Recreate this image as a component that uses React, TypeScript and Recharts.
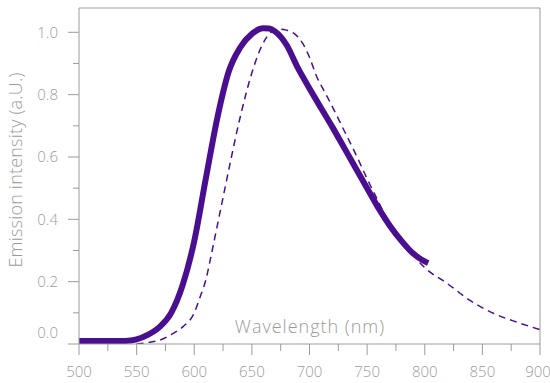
import React from "react";
import { LineChart, Line, XAxis, YAxis, ReferenceLine, Label } from "recharts";

const solidX = [500, 520, 540, 550, 560, 570, 580, 590, 600, 610, 620, 630, 640, 650, 660, 665, 670, 680, 690, 700, 710, 720, 730, 740, 750, 760, 770, 780, 790, 800, 803];
const solidY = [0.01, 0.01, 0.01, 0.015, 0.03, 0.055, 0.1, 0.19, 0.33, 0.53, 0.725, 0.875, 0.952, 0.995, 1.013, 1.012, 1.003, 0.96, 0.885, 0.82, 0.757, 0.695, 0.63, 0.565, 0.5, 0.435, 0.378, 0.33, 0.29, 0.265, 0.26];

const dashX = [550, 560, 570, 580, 590, 600, 605, 610, 615, 620, 625, 630, 640, 650, 657, 665, 670, 675, 680, 686, 694, 700, 706, 713, 720, 730, 740, 750, 760, 770, 780, 790, 800, 820, 840, 860, 880, 900];
const dashY = [0, 0.005, 0.012, 0.03, 0.055, 0.1, 0.15, 0.205, 0.29, 0.38, 0.47, 0.56, 0.73, 0.87, 0.943, 0.995, 1.008, 1.01, 1.007, 0.998, 0.965, 0.92, 0.86, 0.81, 0.76, 0.685, 0.61, 0.53, 0.455, 0.38, 0.33, 0.285, 0.245, 0.193, 0.138, 0.098, 0.07, 0.046];

const xTicks = [500, 525, 550, 575, 600, 625, 650, 675, 700, 725, 750, 775, 800, 825, 850, 875, 900];
const yTicks = [0, 0.1, 0.2, 0.3, 0.4, 0.5, 0.6, 0.7, 0.8, 0.9, 1.0];

const solidData = solidX.map((x, i) => ({ x, y: solidY[i] }));
const dashData = dashX.map((x, i) => ({ x, y: dashY[i] }));

const GRAY = "#9b9b9b";
const PURPLE = "#4a0f91";
const FONT = "'Open Sans', Lato, sans-serif";

const XTick = (props: any) => {
  const { x, y, payload } = props;
  const v = payload.value;
  const major = v % 50 === 0;
  return (
    <g>
      <line x1={x} y1={y} x2={x} y2={y + (major ? 11 : 7)} stroke={GRAY} strokeWidth={1} />
      {major && (
        <text x={v === 900 ? x - 2 : x} y={y + 28} dy="0.35em" textAnchor="middle" fill={GRAY} fontSize={15} fontWeight={300} fontFamily={FONT}>
          {v}
        </text>
      )}
    </g>
  );
};

const YTick = (props: any) => {
  const { x, y, payload } = props;
  const v = payload.value;
  const major = Math.round(v * 10) % 2 === 0;
  return (
    <g>
      <line x1={x - (major ? 11 : 6)} y1={y} x2={x} y2={y} stroke={GRAY} strokeWidth={1} />
      {major && (
        <text x={x - 21} y={v === 0 ? y - 11 : y} dy="0.35em" textAnchor="end" fill={GRAY} fontSize={15} fontWeight={300} fontFamily={FONT}>
          {v.toFixed(1)}
        </text>
      )}
    </g>
  );
};

export default function App() {
  return (
    <div style={{ position: "absolute", left: 0, top: 0, width: 550, height: 383, background: "#fff" }}>
      <LineChart width={550} height={383} margin={{ top: 8, right: 10, bottom: 0, left: 0 }}>
        <XAxis
          type="number"
          dataKey="x"
          domain={[500, 900]}
          ticks={xTicks}
          interval={0}
          height={39}
          tickSize={0}
          tickMargin={0}
          tickLine={false}
          tick={<XTick />}
          axisLine={{ stroke: GRAY }}
          allowDataOverflow
        >
          <Label
            content={() => (
              <text x={310} y={327} dy="0.35em" textAnchor="middle" fill={GRAY} fontSize={18} fontWeight={300} letterSpacing={1} fontFamily={FONT}>
                Wavelength (nm)
              </text>
            )}
          />
        </XAxis>
        <YAxis
          type="number"
          domain={[0, 1.078]}
          ticks={yTicks}
          interval={0}
          width={79}
          tickSize={0}
          tickMargin={0}
          tickLine={false}
          tick={<YTick />}
          axisLine={{ stroke: GRAY }}
          allowDataOverflow
        >
          <Label
            content={() => (
              <text
                x={16}
                y={170}
                dy="0.35em"
                textAnchor="middle"
                fill={GRAY}
                fontSize={18}
                fontWeight={300}
                letterSpacing={0.2}
                fontFamily={FONT}
                transform="rotate(-90 16 170)"
              >
                Emission intensity (a.U.)
              </text>
            )}
          />
        </YAxis>
        <ReferenceLine y={1.078} stroke={GRAY} strokeWidth={1} ifOverflow="visible" />
        <ReferenceLine x={900} stroke={GRAY} strokeWidth={1} ifOverflow="visible" />
        <Line
          data={solidData}
          dataKey="y"
          type="monotone"
          stroke={PURPLE}
          strokeWidth={6}
          strokeLinecap="butt"
          dot={false}
          activeDot={false}
          isAnimationActive={false}
        />
        <Line
          data={dashData}
          dataKey="y"
          type="monotone"
          stroke={PURPLE}
          strokeWidth={1.5}
          strokeDasharray="7 5"
          dot={false}
          activeDot={false}
          isAnimationActive={false}
        />
      </LineChart>
    </div>
  );
}
